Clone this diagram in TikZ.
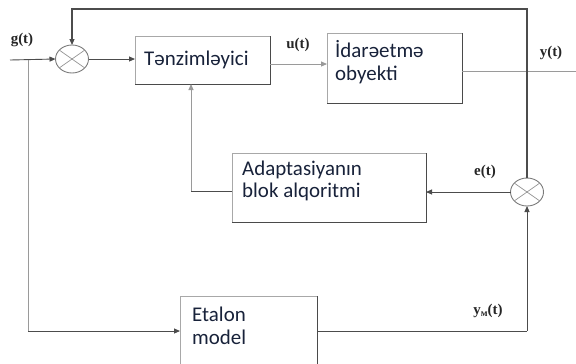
\documentclass[tikz,border=0pt]{standalone}
\usepackage{fontspec}
\setmainfont{Carlito}
\newfontfamily\sigfont{Liberation Serif}
\usetikzlibrary{arrows.meta,shapes.geometric}

\definecolor{txtc}{HTML}{18223A}
\definecolor{edgelight}{HTML}{A8A8A8}
\definecolor{edgedark}{HTML}{4A4A4A}
\definecolor{wire}{HTML}{4C4C4C}
\definecolor{wirelight}{HTML}{9A9A9A}
\definecolor{sumc}{HTML}{7A7A7A}

\tikzset{
  box/.style={rectangle, draw=edgelight, line width=0.9bp, anchor=north west,
    inner sep=0pt, outer sep=0pt},
  boxshade/.style={draw=edgedark, line width=1bp},
  txt/.style={font=\fontsize{21}{23}\selectfont, text=txtc, inner sep=0pt,
    anchor=base west},
  sig/.style={font=\sigfont\bfseries\fontsize{15}{17}\selectfont, text=black!85,
    inner sep=0pt},
  summer/.style={ellipse, draw=sumc, line width=0.9bp, minimum width=33bp,
    minimum height=28bp, inner sep=0pt, outer sep=0pt},
  cross/.style={draw=sumc!80, line width=0.7bp},
  wire/.style={draw=wire, line width=0.9bp},
  lwire/.style={draw=wirelight, line width=0.9bp},
  arr/.style={-{Triangle[length=6bp,width=5bp]}},
}

\begin{document}
\begin{tikzpicture}[x=1bp, y=-1bp]
  \clip (0,0) rectangle (576,363);
  \fill[white] (0,0) rectangle (576,363);

  % blocks
  \node[box, minimum width=135bp, minimum height=48bp] (tz) at (135,36) {};
  \node[box, minimum width=135bp, minimum height=70bp] (id) at (327,33) {};
  \node[box, minimum width=194bp, minimum height=69bp] (ad) at (232,153) {};
  \node[box, minimum width=137bp, minimum height=90bp] (et) at (180,296) {};
  \foreach \b in {tz,id,ad,et}
    \draw[boxshade] (\b.north east) -- (\b.south east) -- (\b.south west);

  % block texts
  \node[txt] (tzt) at (144,65) {Tənzimləyici};
  \node[txt] (idt1) at (335,57) {İdarəetmə};
  \node[txt] (idt2) at (335,80) {obyekti};
  \node[txt] (adt1) at (242,175) {Adaptasiyanın};
  \node[txt] (adt2) at (242,197) {blok alqoritmi};
  \node[txt] (ett1) at (192,321) {Etalon};
  \node[txt] (ett2) at (192,344) {model};

  % summing junctions
  \node[summer] (c1) at (72,59) {};
  \node[summer] (c2) at (527,192) {};
  \foreach \c in {c1,c2} {
    \draw[cross] (\c.35) -- (\c.215);
    \draw[cross] (\c.145) -- (\c.325);
  }

  % auxiliary points
  \coordinate (gin) at (10,60);
  \coordinate (gsplit) at (28,60);
  \coordinate (gdown) at (28,331);
  \coordinate (yout) at (576,71);
  \coordinate (ftr) at (527,9);
  \coordinate (ftl) at (72,9);
  \coordinate (adl) at (191,191);
  \coordinate (etr) at (527,331);

  % connectors
  \draw[wire, arr] (gin) -- (c1.west);
  \draw[lwire] (gsplit) -- (gdown);
  \draw[wire, arr] (gdown) -- (gdown -| et.west);
  \draw[wire, arr] (c1.east) -- (c1.east -| tz.west);
  \draw[lwire, arr] (tz.east |- 0,64) -- (id.west |- 0,64);
  \draw[lwire] (id.east |- yout) -- (yout);
  \draw[wire, line width=1.1bp, arr] (c2.north) -- (ftr) -- (ftl) -- (c1.north);
  \draw[wire, arr] (c2.west) -- (c2.west -| ad.east);
  \draw[wire] (ad.west |- adl) -- (adl);
  \draw[lwire, arr] (adl) -- (adl |- tz.south);
  \draw[wire] (et.east |- etr) -- (etr);
  \draw[wire, arr] (etr) -- (c2.south);

  % signal labels
  \node[sig] (lg) at (22,40) {g(t)};
  \node[sig] (lu) at (298,45) {u(t)};
  \node[sig] (ly) at (551,53) {y(t)};
  \node[sig] (le) at (485,172) {e(t)};
  \node[sig] (lym) at (488,311) {y\raisebox{-2bp}{\fontsize{10}{11}\selectfont м}(t)};
\end{tikzpicture}
\end{document}
